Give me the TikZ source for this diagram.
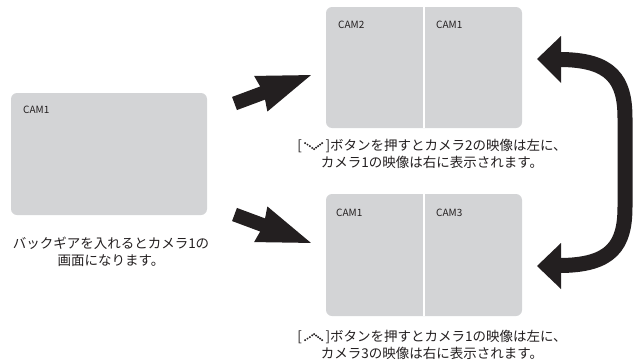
\documentclass[tikz,border=0pt]{standalone}
\usepackage{fontspec}
\setmainfont{Noto Sans CJK JP}
\definecolor{scr}{HTML}{D3D4D6}
\definecolor{ink}{HTML}{231F20}
\definecolor{txt}{HTML}{231F20}
\newcommand\downicon{\tikz[baseline=-1pt,x=1pt,y=1pt]{\foreach \p in {(0pt,6pt),(2.3pt,4.5pt),(4.6pt,3pt),(7pt,1.2pt),(9pt,0pt),(11pt,1.5pt),(13pt,3pt),(15pt,4.5pt),(17pt,6pt)} \fill[txt] \p circle[radius=1.1pt];}}
\newcommand\upicon{\tikz[baseline=-1pt,x=1pt,y=1pt]{\foreach \p in {(0pt,0pt),(2.3pt,1.5pt),(4.6pt,3pt),(7pt,4.8pt),(9pt,6pt),(11pt,4.5pt),(13pt,3pt),(15pt,1.5pt),(17pt,0pt)} \fill[txt] \p circle[radius=1.1pt];}}
\begin{document}
\begin{tikzpicture}[x=1pt,y=-1pt,
  screen/.style={fill=scr,draw=none,rounded corners=6pt,inner sep=0pt,outer sep=0pt,minimum width=196pt},
  camlabel/.style={anchor=west,inner sep=0pt,font=\fontsize{10}{12}\selectfont,text=txt},
  caption/.style={align=center,inner sep=0pt,font=\fontsize{13.5}{17}\selectfont,text=txt},
  divider/.style={white,line width=1.5pt},
  blockarrow/.style={fill=ink,draw=none},
  bendarrow/.style={draw=ink,line width=15pt,line cap=butt}]
\useasboundingbox (0,0) rectangle (633,362);
% screens
\node[screen,minimum height=122pt] (left) at (109,154) {};
\node[screen,minimum height=121pt] (top) at (424,67.5) {};
\node[screen,minimum height=122pt] (bot) at (424,255) {};
\draw[divider] (top.north) -- (top.south);
\draw[divider] (bot.north) -- (bot.south);
% labels
\node[camlabel] (l1) at ([xshift=12pt,yshift=-17pt]left.north west) {CAM1};
\node[camlabel] (t2) at ([xshift=12pt,yshift=-18pt]top.north west) {CAM2};
\node[camlabel] (t1) at ([xshift=12pt,yshift=-18pt]top.north) {CAM1};
\node[camlabel] (b1) at ([xshift=10pt,yshift=-19pt]bot.north west) {CAM1};
\node[camlabel] (b3) at ([xshift=12pt,yshift=-19pt]bot.north) {CAM3};
% captions
\node[caption] (lc) at (111,251.5) {バックギアを入れるとカメラ1の\\画面になります。};
\node[caption] (tc) at (432,153.5) {[\,\downicon\,]ボタンを押すとカメラ2の映像は左に、\\カメラ1の映像は右に表示されます。};
\node[caption] (bc) at (432,344.5) {[\,\upicon\,]ボタンを押すとカメラ1の映像は左に、\\カメラ3の映像は右に表示されます。};
% straight arrows
\coordinate (ta) at (234.5,103.5);
\coordinate (tb) at (234.5,214.5);
\begin{scope}[shift={(ta)},rotate=20.4]
\fill[blockarrow] (0,-7) -- (30,-7) -- (28,-19) -- (81.6,0) -- (28,19) -- (30,7) -- (0,7) -- cycle;
\end{scope}
\begin{scope}[shift={(tb)},rotate=-20.4]
\fill[blockarrow] (0,-7) -- (30,-7) -- (28,-19) -- (81.6,0) -- (28,19) -- (30,7) -- (0,7) -- cycle;
\end{scope}
% bent double arrow
\coordinate (ha) at (559,59.5);
\coordinate (hb) at (559,265.5);
\draw[bendarrow] (ha) .. controls (612,59.5) and (625,80) .. (625,118) -- (625,207) .. controls (625,245) and (612,265.5) .. (hb);
\fill[blockarrow] (537,59) -- (561,36) -- (561,83) -- cycle;
\fill[blockarrow] (537,266) -- (561,243) -- (561,289) -- cycle;
\end{tikzpicture}
\end{document}
